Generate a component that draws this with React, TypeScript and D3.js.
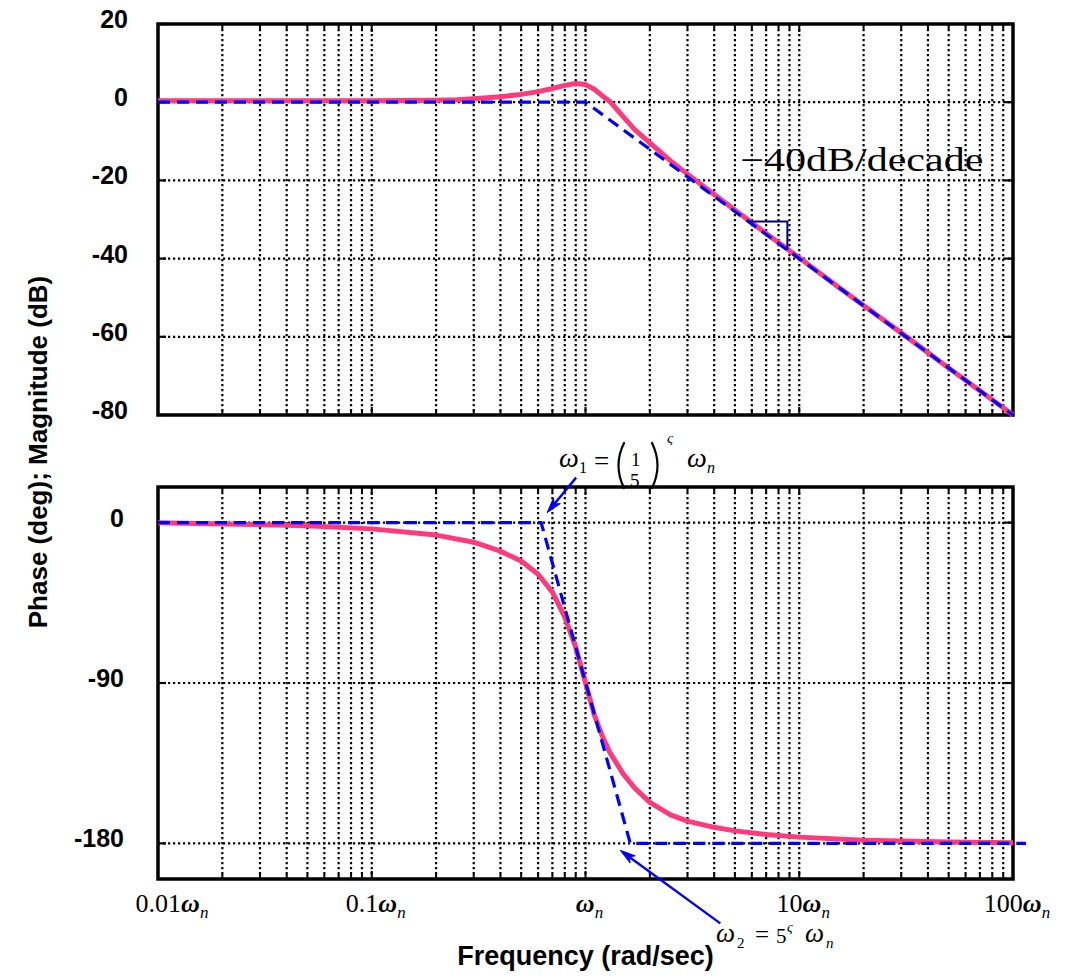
import React from 'react';
import * as d3 from 'd3';

// Second-order system Bode plot: exact response (pink) and straight-line asymptotes (blue dashed)
const magFreq = [0.01, 0.02, 0.05, 0.1, 0.2, 0.25, 0.3, 0.4, 0.5, 0.6, 0.7, 0.8, 0.9, 1.0, 1.1, 1.2, 1.3, 1.5, 1.7, 2, 2.5, 3, 4, 5, 7, 10, 15, 20, 30, 50, 70, 100];
const magDb = [0.4, 0.4, 0.4, 0.4, 0.5, 0.6, 0.9, 1.4, 2.0, 2.7, 3.5, 4.3, 4.8, 4.5, 3.3, 1.6, 0.2, -3.7, -7.0, -10.4, -15.0, -18.4, -23.6, -27.6, -33.6, -39.8, -47.0, -52.0, -59.0, -68.0, -73.8, -80.0];

const magAsymFreq = [0.01, 1, 100];
const magAsymDb = [0, 0, -80];

const phaseFreq = [0.01, 0.02, 0.05, 0.1, 0.2, 0.3, 0.4, 0.5, 0.6, 0.7, 0.8, 0.9, 1.0, 1.1, 1.2, 1.3, 1.5, 1.7, 2, 2.5, 3, 4, 5, 7, 10, 20, 50, 100];
const phaseDeg = [0, -0.7, -1.7, -3.5, -7, -11, -16, -21.5, -29, -39, -53, -70, -90, -108, -120, -129, -141, -149, -157, -164, -167.5, -171, -173, -175, -176.5, -178.3, -179.3, -179.7];

const phaseAsymFreq = [0.01, 0.62, 1.62, 115];
const phaseAsymDeg = [0, 0, -180, -180];

const magTicks = [20, 0, -20, -40, -60, -80];
const phaseTicks = [0, -90, -180];
const freqTicks = [0.01, 0.1, 1, 10, 100];
const freqTickPrefix = ['0.01', '0.1', '', '10', '100'];

// -40 dB/decade slope marker along the asymptote
const slopeFreqs = [5.8, 8.8];
const slopeLabel = '\u221240dB/decade';
const slopeLabelAt = { f: 5.3, db: -17.7 };

const W = 1066;
const H = 976;
const PINK = '#ff3a7c';
const BLUE = '#0000ff';
const SANS = 'Liberation Sans, Arial, sans-serif';
const SERIF = 'Liberation Serif, Times New Roman, serif';

const x = d3.scaleLog().domain([0.01, 100]).range([158, 1013]);
const yMag = d3.scaleLinear().domain([-80, 20]).range([415, 24]);
const yPh = d3.scaleLinear().domain([-200, 20]).range([879, 487]);

// every 1..9 x decade inside the plot
const minorFreqs: number[] = [];
[0.01, 0.1, 1, 10].forEach((dec) => {
  for (let k = 1; k <= 9; k++) {
    const v = dec * k;
    if (v > 0.01 && v < 100) minorFreqs.push(v);
  }
});

const isDecade = (v: number) => Math.abs(Math.log10(v) - Math.round(Math.log10(v))) < 1e-9;

function Panel({ y, ticks, tickLabelRight }: { y: d3.ScaleLinear<number, number>; ticks: number[]; tickLabelRight: number }) {
  const [y0, y1] = y.range();
  const top = Math.min(y0, y1);
  const bottom = Math.max(y0, y1);
  const left = x(0.01);
  const right = x(100);
  const grid = { stroke: '#000', strokeWidth: 2.2, strokeDasharray: '2.2 2.8', fill: 'none' };
  return (
    <g>
      {minorFreqs.map((f) => (
        <line key={'v' + f} x1={x(f)} x2={x(f)} y1={top} y2={bottom} {...grid} />
      ))}
      {ticks.map((t) => (
        <line key={'h' + t} x1={left} x2={right} y1={y(t)} y2={y(t)} {...grid} />
      ))}
      {minorFreqs.map((f) => {
        const len = isDecade(f) ? 8 : 5;
        return (
          <g key={'xt' + f} stroke="#000" strokeWidth={2}>
            <line x1={x(f)} x2={x(f)} y1={bottom} y2={bottom - len} />
            <line x1={x(f)} x2={x(f)} y1={top} y2={top + len} />
          </g>
        );
      })}
      {ticks.map((t) => (
        <g key={'yt' + t} stroke="#000" strokeWidth={2.2}>
          <line x1={left} x2={left + 8} y1={y(t)} y2={y(t)} />
          <line x1={right} x2={right - 8} y1={y(t)} y2={y(t)} />
        </g>
      ))}
      {ticks.map((t) => (
        <text key={'yl' + t} x={tickLabelRight} y={y(t) + 4} textAnchor="end" fontFamily={SANS} fontWeight="bold" fontSize={25} fill="#000">
          {String(t)}
        </text>
      ))}
      <rect x={left} y={top} width={right - left} height={bottom - top} fill="none" stroke="#000" strokeWidth={3.5} />
    </g>
  );
}

function Arrow({ x1, y1, x2, y2 }: { x1: number; y1: number; x2: number; y2: number }) {
  const ang = Math.atan2(y2 - y1, x2 - x1);
  const len = 16;
  const half = 0.28;
  const p1 = [x2 - len * Math.cos(ang - half), y2 - len * Math.sin(ang - half)];
  const p2 = [x2 - len * Math.cos(ang + half), y2 - len * Math.sin(ang + half)];
  const bx = x2 - len * 0.7 * Math.cos(ang);
  const by = y2 - len * 0.7 * Math.sin(ang);
  return (
    <g>
      <line x1={x1} y1={y1} x2={bx} y2={by} stroke={BLUE} strokeWidth={2.4} />
      <path d={`M${x2},${y2}L${p1[0]},${p1[1]}L${bx},${by}L${p2[0]},${p2[1]}Z`} fill={BLUE} stroke={BLUE} strokeWidth={1} />
    </g>
  );
}

// tall round bracket drawn as a stroked curve
function Paren({ cx, top, bottom, dir }: { cx: number; top: number; bottom: number; dir: 1 | -1 }) {
  const mid = (top + bottom) / 2;
  const bulge = 11 * dir;
  return (
    <path
      d={`M${cx},${top} Q${cx - bulge},${mid} ${cx},${bottom}`}
      fill="none"
      stroke="#000"
      strokeWidth={2.2}
      strokeLinecap="round"
    />
  );
}

export default function App() {
  const magLine = d3
    .line<number>()
    .x((_, i) => x(magFreq[i]))
    .y((d) => yMag(d));
  const magAsym = d3
    .line<number>()
    .x((_, i) => x(magAsymFreq[i]))
    .y((d) => yMag(d));
  const phLine = d3
    .line<number>()
    .x((_, i) => x(phaseFreq[i]))
    .y((d) => yPh(d));
  const phAsym = d3
    .line<number>()
    .x((_, i) => x(phaseAsymFreq[i]))
    .y((d) => yPh(d));

  const slopeDb = slopeFreqs.map((f) => -40 * Math.log10(f));
  const triPath = `M${x(slopeFreqs[0])},${yMag(slopeDb[0])}H${x(slopeFreqs[1])}V${yMag(slopeDb[1])}`;

  // breakpoints of the phase asymptote, used to aim the annotation arrows
  const w1x = x(phaseAsymFreq[1]);
  const w2x = x(phaseAsymFreq[2]);
  const p0 = yPh(0);
  const p180 = yPh(-180);

  return (
    <svg width={W} height={H} viewBox={`0 0 ${W} ${H}`} style={{ position: 'absolute', left: 0, top: 0, background: '#fff' }}>
      <rect x={0} y={0} width={W} height={H} fill="#fff" />

      <Panel y={yMag} ticks={magTicks} tickLabelRight={128} />
      <Panel y={yPh} ticks={phaseTicks} tickLabelRight={124} />

      {/* magnitude */}
      <path d={magLine(magDb) || ''} fill="none" stroke={PINK} strokeWidth={5} strokeLinejoin="round" />
      <path d={magAsym(magAsymDb) || ''} fill="none" stroke={BLUE} strokeWidth={3.2} strokeDasharray="12 7" />
      <path d={triPath} fill="none" stroke="#000080" strokeWidth={2} />
      <text
        x={x(slopeLabelAt.f)}
        y={yMag(slopeLabelAt.db)}
        fontFamily={SERIF}
        fontSize={33}
        textLength={243}
        lengthAdjust="spacingAndGlyphs"
        fill="#000"
      >
        {slopeLabel}
      </text>

      {/* phase */}
      <path d={phLine(phaseDeg) || ''} fill="none" stroke={PINK} strokeWidth={5} strokeLinejoin="round" />
      <path d={phAsym(phaseAsymDeg) || ''} fill="none" stroke={BLUE} strokeWidth={3.2} strokeDasharray="12 7" />

      {/* omega_1 annotation */}
      <Arrow x1={w1x + 35} y1={p0 - 45} x2={w1x + 6} y2={p0 - 10} />
      <g fontFamily={SERIF} fill="#000">
        <text x={559} y={467} fontSize={28} fontStyle="italic">ω</text>
        <text x={579} y={473} fontSize={16}>1</text>
        <text x={594} y={470} fontSize={27}>=</text>
        <Paren cx={624} top={443} bottom={488} dir={1} />
        <text x={631} y={466} fontSize={19}>1</text>
        <text x={630} y={487} fontSize={19}>5</text>
        <Paren cx={652} top={443} bottom={488} dir={-1} />
        <text x={667} y={443} fontSize={15} fontStyle="italic">ς</text>
        <text x={687} y={467} fontSize={28} fontStyle="italic">ω</text>
        <text x={707} y={473} fontSize={16} fontStyle="italic">n</text>
      </g>

      {/* omega_2 annotation */}
      <Arrow x1={w2x + 90} y1={p180 + 80} x2={w2x - 10} y2={p180 + 7} />
      <g fontFamily={SERIF} fill="#000">
        <text x={716} y={942} fontSize={27} fontStyle="italic">ω</text>
        <text x={737} y={948} fontSize={15}>2</text>
        <text x={755} y={943} fontSize={25}>=</text>
        <text x={776} y={943} fontSize={21}>5</text>
        <text x={787} y={932} fontSize={14} fontStyle="italic">ς</text>
        <text x={805} y={942} fontSize={27} fontStyle="italic">ω</text>
        <text x={826} y={948} fontSize={15} fontStyle="italic">n</text>
      </g>

      {/* frequency tick labels */}
      {freqTicks.map((f, i) => (
        <text key={'fl' + f} x={x(f) + (i === 0 ? 14 : 4)} y={912} textAnchor="middle" fontFamily={SERIF} fontSize={26} fill="#000">
          <tspan>{freqTickPrefix[i]}</tspan>
          <tspan fontStyle="italic" fontWeight="bold">ω</tspan>
          <tspan fontStyle="italic" fontSize={17} dy={6}>n</tspan>
        </text>
      ))}

      {/* axis titles */}
      <text x={x(1)} y={965} textAnchor="middle" fontFamily={SANS} fontWeight="bold" fontSize={27} fill="#000">
        Frequency (rad/sec)
      </text>
      <text
        transform={`translate(47, 452) rotate(-90)`}
        textAnchor="middle"
        fontFamily={SANS}
        fontWeight="bold"
        fontSize={26}
        fill="#000"
      >
        Phase (deg); Magnitude (dB)
      </text>
    </svg>
  );
}
